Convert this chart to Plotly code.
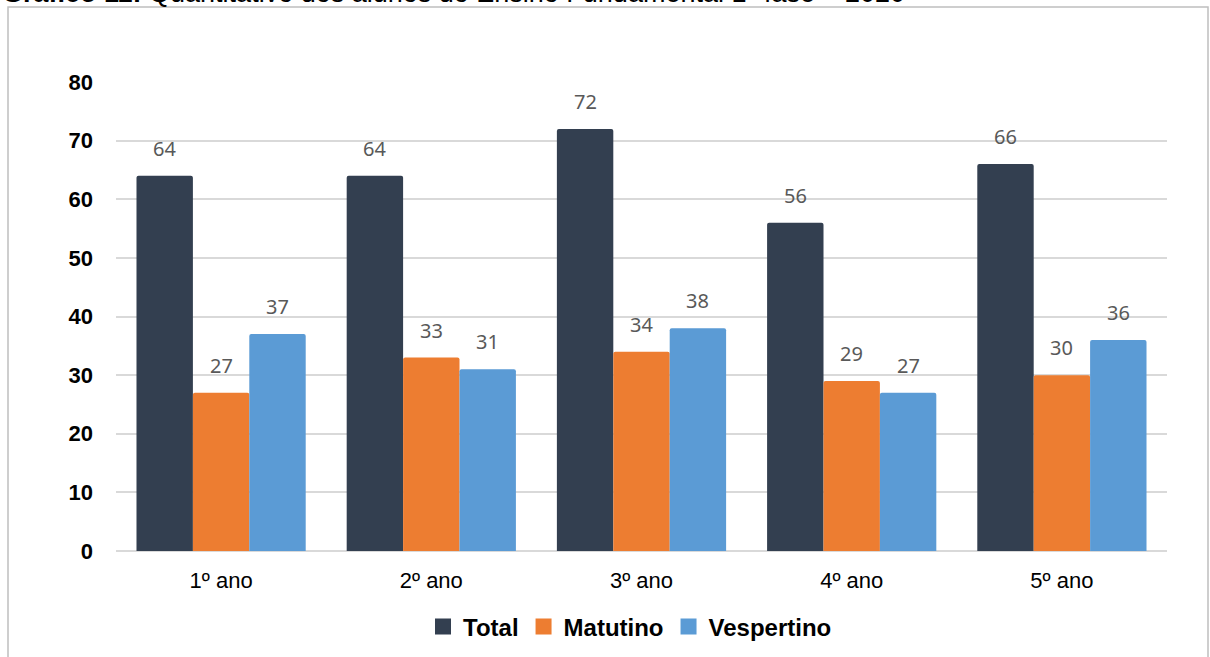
import plotly.graph_objects as go

# Student counts per grade and shift
categories = ["1º ano", "2º ano", "3º ano", "4º ano", "5º ano"]
total = [64, 64, 72, 56, 66]
matutino = [27, 33, 34, 29, 30]
vespertino = [37, 31, 38, 27, 36]

series = [
    ("Total", total, "#333F50"),
    ("Matutino", matutino, "#ED7D31"),
    ("Vespertino", vespertino, "#5B9BD5"),
]

W, H = 1210, 657
L, R, T, B = 116, 43, 82, 106
plot_w = W - L - R
plot_h = H - T - B

fig = go.Figure()
for name, vals, color in series:
    fig.add_trace(go.Bar(
        name=name, x=categories, y=vals, showlegend=False,
        marker=dict(color=color, line=dict(width=0), cornerradius=2),
    ))

# legend entries drawn as larger square swatches
for name, vals, color in series:
    fig.add_trace(go.Scatter(
        name=name, x=[None], y=[None], mode="markers",
        marker=dict(symbol="square", size=17, color=color),
    ))

# value labels above each bar, shifted to the bar's slot inside its group
bar_px = plot_w / len(categories) * (1 - 0.195) / 3
for i, (name, vals, color) in enumerate(series):
    for c, v in zip(categories, vals):
        fig.add_annotation(
            x=c, y=v, xref="x", yref="y", text=str(v), showarrow=False,
            xshift=(i - 1) * bar_px, yshift=12, yanchor="bottom",
            font=dict(family="Noto Sans", size=20, color="#595959"),
        )

def px_x(p):
    return (p - L) / plot_w

def px_y(p):
    return (H - B - p) / plot_h

# outer frame
fig.add_shape(type="rect", xref="paper", yref="paper",
              x0=px_x(8), x1=px_x(1208), y0=px_y(720), y1=px_y(7),
              line=dict(color="#BFBFBF", width=1.5), fillcolor="rgba(0,0,0,0)",
              layer="below")

# heading
fig.add_annotation(
    xref="paper", yref="paper", x=px_x(0), y=px_y(10),
    xanchor="left", yanchor="bottom", showarrow=False,
    text="<b>Gráfico 11:</b> Quantitativo dos alunos do Ensino Fundamental 1ª fase – 2020",
    font=dict(family="Liberation Sans", size=27, color="#000000"),
)

fig.update_layout(
    width=W, height=H,
    margin=dict(l=L, r=R, t=T, b=B, autoexpand=False),
    paper_bgcolor="white", plot_bgcolor="white",
    barmode="group", bargap=0.195, bargroupgap=0,
    showlegend=True,
    legend=dict(
        orientation="h", x=px_x(630), xanchor="center", y=px_y(627), yanchor="middle",
        font=dict(family="Liberation Sans", size=24, color="#000000", weight="bold"),
        tracegroupgap=0, itemwidth=30,
    ),
    xaxis=dict(
        showgrid=False, showline=False, zeroline=False, ticks="",
        tickfont=dict(family="Liberation Sans", size=22, color="#000000"),
        ticklabelstandoff=14,
    ),
    yaxis=dict(
        range=[0, 80], dtick=10, showgrid=True, gridcolor="#D9D9D9", gridwidth=1.5,
        zeroline=True, zerolinecolor="#D9D9D9", zerolinewidth=1.5, showline=False,
        ticks="", ticklabelstandoff=22,
        tickfont=dict(family="Liberation Sans", size=22, color="#000000", weight="bold"),
    ),
)

fig.write_html("out.html")
